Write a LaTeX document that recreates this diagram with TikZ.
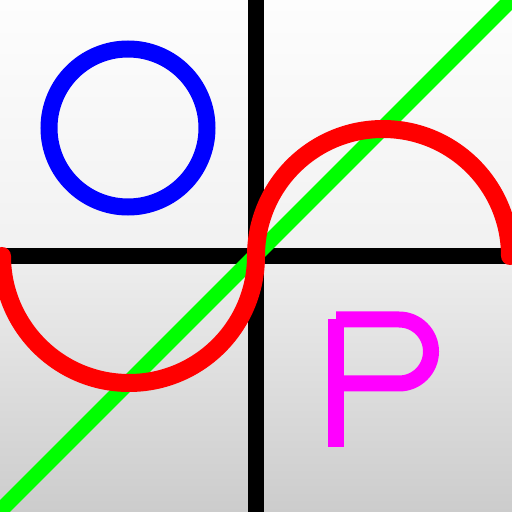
\documentclass[tikz,border=0pt]{standalone}
\usepackage{tikz}

\definecolor{bgtop}{RGB}{253,253,253}
\definecolor{bgmidup}{RGB}{241,241,241}
\definecolor{bgmidlow}{RGB}{238,238,238}
\definecolor{bgbottom}{RGB}{204,204,204}
\definecolor{ringblue}{RGB}{0,0,255}
\definecolor{diaggreen}{RGB}{0,255,0}
\definecolor{wavered}{RGB}{255,0,0}
\definecolor{letterpink}{RGB}{255,0,255}

\begin{document}
\begin{tikzpicture}[
  x=1pt, y=1pt,
  cross/.style={draw=black, line width=16pt},
  ring/.style={draw=ringblue, line width=17pt},
  diag/.style={draw=diaggreen, line width=15.5pt},
  wave/.style={draw=wavered, line width=18pt, line cap=round},
  letter/.style={draw=letterpink, line width=16pt},
]
\useasboundingbox (0,0) rectangle (512,512);
\clip (0,0) rectangle (512,512);
% background, upper and lower halves
\shade[top color=bgtop, bottom color=bgmidup] (0,256) rectangle (512,512);
\shade[top color=bgmidlow, bottom color=bgbottom] (0,0) rectangle (512,256);
% axes
\coordinate (top)    at (256,512);
\coordinate (bottom) at (256,0);
\coordinate (left)   at (0,256);
\coordinate (right)  at (512,256);
\draw [cross] (top) -- (bottom);
\draw [cross] (left) -- (right);
% circle in upper left quadrant
\coordinate (ringc) at (128,384);
\draw [ring] (ringc) circle (79);
% diagonal
\coordinate (dstart) at (-10,-9);
\coordinate (dend)   at (522,523);
\draw [diag] (dstart) -- (dend);
% s-curve
\coordinate (wstart) at (2,256);
\draw [wave] (wstart) arc (180:360:127) arc (180:0:127);
% letter P in lower right quadrant
\coordinate (stemtop) at (336,193);
\coordinate (stembot) at (336,65);
\draw [letter] (stemtop) -- (stembot);
\coordinate (bowl) at (336,192.5);
\draw [letter] (bowl) -- ++(63,0) arc (90:-90:32) -- ++(-59,0);
\end{tikzpicture}
\end{document}
